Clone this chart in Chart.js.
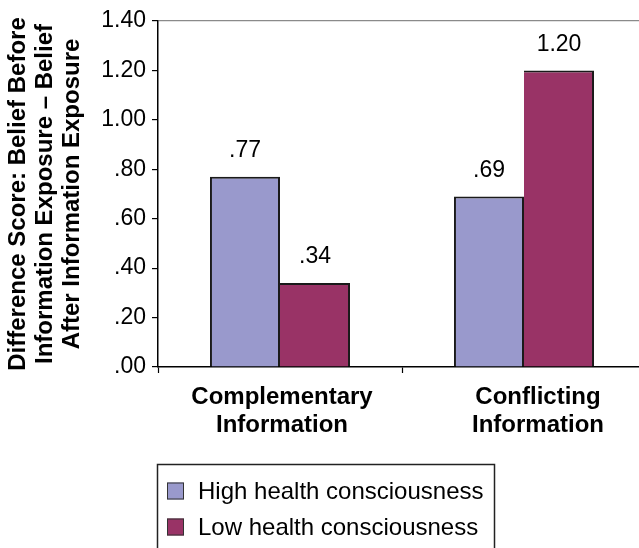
<!DOCTYPE html>
<html>
<head>
<meta charset="utf-8">
<script src="https://cdn.jsdelivr.net/npm/chart.js@4.4.1/dist/chart.umd.min.js"></script>
<style>
  html, body { margin: 0; padding: 0; background: #fff; overflow: hidden; }
  #wrap { position: relative; width: 646px; height: 548px; }
</style>
</head>
<body>
<div id="wrap"><canvas id="chart"></canvas></div>
<script>
// Categories, series and tick labels
const categories = [['Complementary', 'Information'], ['Conflicting', 'Information']];
const seriesNames = ['High health consciousness', 'Low health consciousness'];
const highValues = [0.77, 0.69];
const lowValues = [0.34, 1.20];
const yTickLabels = ['.00', '.20', '.40', '.60', '.80', '1.00', '1.20', '1.40'];

const FONT = "'Liberation Sans', Arial, Helvetica, sans-serif";
const HIGH_COLOR = '#9999cc';
const LOW_COLOR = '#993366';
const EDGE = '#1a1a1a';

function fmtValue(v) {
  const s = v.toFixed(2);
  return s.startsWith('0') ? s.slice(1) : s;
}

// Numbers written above each bar
const valueLabels = {
  id: 'valueLabels',
  afterDatasetsDraw(chart) {
    const ctx = chart.ctx;
    ctx.save();
    ctx.font = '23px ' + FONT;
    ctx.fillStyle = '#000';
    ctx.textAlign = 'center';
    ctx.textBaseline = 'middle';
    chart.data.datasets.forEach((ds, di) => {
      chart.getDatasetMeta(di).data.forEach((bar, i) => {
        ctx.fillText(fmtValue(ds.data[i]), bar.x, bar.y - 26);
      });
    });
    ctx.restore();
  }
};

// Two-line bold category names under the x axis
const categoryNames = {
  id: 'categoryNames',
  afterDraw(chart, args, opts) {
    const ctx = chart.ctx;
    const xs = chart.scales.x;
    ctx.save();
    ctx.font = 'bold 24px ' + FONT;
    ctx.fillStyle = '#000';
    ctx.textAlign = 'center';
    ctx.textBaseline = 'middle';
    categories.forEach((lines, i) => {
      const x = xs.getPixelForValue(i) + opts.shift[i];
      lines.forEach((line, j) => {
        ctx.fillText(line, x, chart.chartArea.bottom + 30 + j * 28);
      });
    });
    ctx.restore();
  }
};

// Boxed legend with one series per row
const boxedLegend = {
  id: 'boxedLegend',
  afterDraw(chart) {
    const ctx = chart.ctx;
    const left = chart.chartArea.left - 1;
    const top = 464;
    ctx.save();
    ctx.strokeStyle = '#222';
    ctx.lineWidth = 1.5;
    ctx.strokeRect(left + 0.5, top + 0.5, 337, 100);
    ctx.font = '24px ' + FONT;
    ctx.textBaseline = 'middle';
    ctx.textAlign = 'left';
    chart.data.datasets.forEach((ds, i) => {
      const cy = top + 27 + i * 36;
      ctx.fillStyle = ds.backgroundColor;
      ctx.fillRect(left + 10, cy - 8.5, 17, 17);
      ctx.strokeStyle = '#333';
      ctx.lineWidth = 1;
      ctx.strokeRect(left + 10.5, cy - 8, 16, 16);
      ctx.fillStyle = '#000';
      ctx.fillText(ds.label, left + 41, cy + 1);
    });
    ctx.restore();
  }
};

new Chart(document.getElementById('chart'), {
  type: 'bar',
  data: {
    labels: categories.map(c => c.join(' ')),
    datasets: [
      {
        label: seriesNames[0],
        data: highValues,
        backgroundColor: HIGH_COLOR,
        borderColor: EDGE,
        borderWidth: { top: 2, left: 2, right: 2, bottom: 0 },
        borderSkipped: false
      },
      {
        label: seriesNames[1],
        data: lowValues,
        backgroundColor: LOW_COLOR,
        borderColor: EDGE,
        borderWidth: { top: 2, left: 0, right: 2, bottom: 0 },
        borderSkipped: false
      }
    ]
  },
  options: {
    responsive: true,
    maintainAspectRatio: false,
    animation: false,
    layout: { padding: { top: 21, right: 0, bottom: 0, left: 0 } },
    datasets: { bar: { categoryPercentage: 0.574, barPercentage: 1.0 } },
    plugins: {
      legend: { display: false },
      tooltip: { enabled: false },
      categoryNames: { shift: [2, 14] }
    },
    scales: {
      x: {
        offset: true,
        grid: {
          offset: true,
          drawOnChartArea: false,
          color: 'rgba(0,0,0,0)',
          tickColor: '#000',
          tickLength: 6,
          tickWidth: 1.2
        },
        border: { display: true, color: '#000', width: 1.5 },
        ticks: { display: false },
        afterFit(scale) { scale.height = 181; }
      },
      y: {
        min: 0,
        max: 1.4,
        ticks: {
          stepSize: 0.2,
          color: '#000',
          padding: 6,
          font: { family: FONT, size: 23 },
          callback: (v, i) => yTickLabels[i]
        },
        grid: {
          color: (c) => (c.index === yTickLabels.length - 1 ? '#8a8a8a' : 'rgba(0,0,0,0)'),
          lineWidth: 1.2,
          tickColor: '#000',
          tickLength: 6,
          tickWidth: 1.2
        },
        border: { display: true, color: '#000', width: 1.5 },
        title: {
          display: true,
          text: ['Difference Score: Belief Before', 'Information Exposure \u2013 Belief', 'After Information Exposure'],
          color: '#000',
          font: { family: FONT, size: 24, weight: 'bold', lineHeight: '27px' },
          padding: { top: 4.5, bottom: 0 }
        },
        afterFit(scale) { scale.width = 158; }
      }
    }
  },
  plugins: [valueLabels, categoryNames, boxedLegend]
});
</script>
</body>
</html>
